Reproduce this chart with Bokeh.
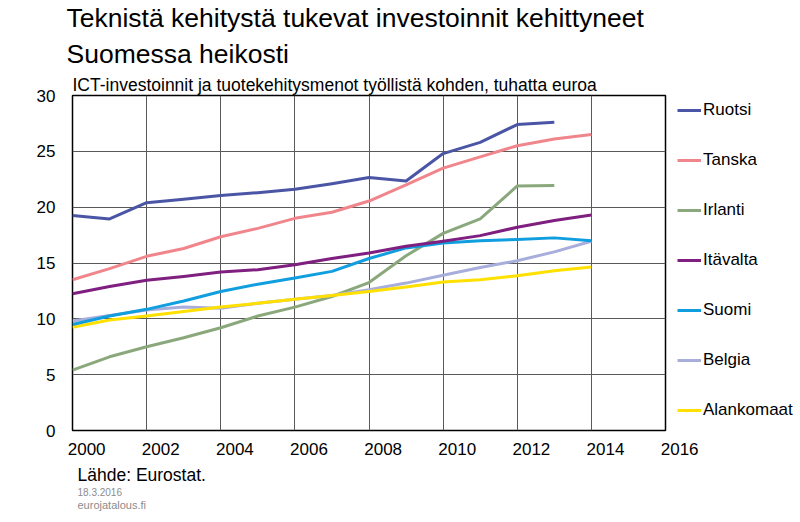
from bokeh.plotting import figure
from bokeh.models import Range1d, FixedTicker, Legend, LegendItem, Title
from bokeh.embed import file_html
from bokeh.resources import INLINE

years = list(range(2000, 2015))
years13 = list(range(2000, 2014))

ruotsi = [19.25, 18.95, 20.4, 20.7, 21.05, 21.3, 21.6, 22.1, 22.65, 22.35, 24.8, 25.8, 27.4, 27.6]
tanska = [13.5, 14.5, 15.6, 16.3, 17.35, 18.1, 19.0, 19.55, 20.55, 22.0, 23.5, 24.5, 25.5, 26.1, 26.5]
irlanti = [5.4, 6.6, 7.5, 8.3, 9.2, 10.25, 11.05, 12.0, 13.25, 15.65, 17.65, 18.95, 21.9, 21.95]
itavalta = [12.25, 12.9, 13.45, 13.8, 14.2, 14.4, 14.85, 15.4, 15.9, 16.5, 16.95, 17.45, 18.2, 18.8, 19.3]
suomi = [9.5, 10.25, 10.85, 11.6, 12.45, 13.1, 13.65, 14.25, 15.4, 16.35, 16.8, 17.0, 17.1, 17.25, 17.0]
belgia = [9.8, 10.3, 10.8, 11.05, 10.95, 11.4, 11.75, 12.1, 12.6, 13.2, 13.9, 14.6, 15.2, 16.0, 16.95]
alankomaat = [9.25, 9.9, 10.25, 10.65, 11.05, 11.4, 11.75, 12.1, 12.45, 12.85, 13.3, 13.5, 13.85, 14.3, 14.65]

series = [
    ("Ruotsi", years13, ruotsi, "#4B55A5"),
    ("Tanska", years, tanska, "#F0868C"),
    ("Irlanti", years13, irlanti, "#8AA87C"),
    ("Itävalta", years, itavalta, "#7F1F80"),
    ("Suomi", years, suomi, "#109EDF"),
    ("Belgia", years, belgia, "#A8AEDC"),
    ("Alankomaat", years, alankomaat, "#FFE000"),
]
draw_order = ["Irlanti", "Belgia", "Alankomaat", "Suomi", "Itävalta", "Tanska", "Ruotsi"]

x_ticks = list(range(2000, 2017, 2))
y_ticks = list(range(0, 31, 5))

title1 = "Teknistä kehitystä tukevat investoinnit kehittyneet"
title2 = "Suomessa heikosti"
subtitle = "ICT-investoinnit ja tuotekehitysmenot työllistä kohden, tuhatta euroa"
source = "Lähde: Eurostat."
date = "18.3.2016"
site = "eurojatalous.fi"

FONT = "Liberation Sans"
NBSP = "\u00a0" * 6   # shifts the centred year label right of its gridline, as in the original

p = figure(frame_width=593, frame_height=335, output_backend="svg", toolbar_location=None,
           x_range=Range1d(2000, 2016), y_range=Range1d(0, 30),
           min_border_left=72, min_border_right=135, min_border_top=95,
           min_border_bottom=92)

xa = p.xaxis[0]
xa.ticker = FixedTicker(ticks=x_ticks)
xa.major_label_overrides = {yr: NBSP + str(yr) for yr in x_ticks}
xa.axis_line_color = None
xa.major_tick_line_color = None
xa.minor_tick_line_color = None
xa.major_label_text_font = FONT
xa.major_label_text_font_size = "17px"
xa.major_label_text_color = "black"
xa.major_label_standoff = 3

ya = p.yaxis[0]
ya.ticker = FixedTicker(ticks=y_ticks)
ya.axis_line_color = None
ya.major_tick_line_color = None
ya.minor_tick_line_color = None
ya.major_label_text_font = FONT
ya.major_label_text_font_size = "17px"
ya.major_label_text_color = "black"
ya.major_label_standoff = 11

for g in (p.xgrid, p.ygrid):
    g.grid_line_color = "#595959"
    g.grid_line_width = 1

p.outline_line_color = "black"
p.outline_line_width = 1.5
p.background_fill_color = "white"
p.border_fill_color = "white"

lookup = {s[0]: s for s in series}
renderers = {}
for name in draw_order:
    _, xs, ys, col = lookup[name]
    renderers[name] = p.line(xs, ys, line_color=col, line_width=3, line_join="round")

legend = Legend(items=[LegendItem(label=s[0], renderers=[renderers[s[0]]]) for s in series],
                location=(12, 10))
legend.border_line_color = None
legend.background_fill_alpha = 0
legend.padding = 0
legend.margin = 0
legend.spacing = 30
legend.glyph_width = 24
legend.glyph_height = 20
legend.label_height = 20
legend.label_standoff = 2
legend.label_text_font = FONT
legend.label_text_font_size = "17px"
legend.label_text_color = "black"
p.add_layout(legend, "right")

# titles above the plot (first added = closest to the frame)
p.add_layout(Title(text=subtitle, align="left", offset=0, standoff=1,
                   text_font=FONT, text_font_size="17.5px", text_font_style="normal",
                   text_color="black"), "above")
p.add_layout(Title(text=title2, align="left", offset=-6, standoff=8,
                   text_font=FONT, text_font_size="26.5px", text_font_style="normal",
                   text_color="black"), "above")
p.add_layout(Title(text=title1, align="left", offset=-6, standoff=0,
                   text_font=FONT, text_font_size="26.5px", text_font_style="normal",
                   text_color="black"), "above")

# source notes below the axis
p.add_layout(Title(text=source, align="left", offset=5, standoff=3,
                   text_font=FONT, text_font_size="17.5px", text_font_style="normal",
                   text_color="black"), "below")
p.add_layout(Title(text=date, align="left", offset=5, standoff=-2,
                   text_font=FONT, text_font_size="10px", text_font_style="normal",
                   text_color="#8C8C8C"), "below")
p.add_layout(Title(text=site, align="left", offset=5, standoff=4,
                   text_font=FONT, text_font_size="11px", text_font_style="normal",
                   text_color="#8C8C8C"), "below")

open("out.html", "w").write(file_html(p, INLINE))
